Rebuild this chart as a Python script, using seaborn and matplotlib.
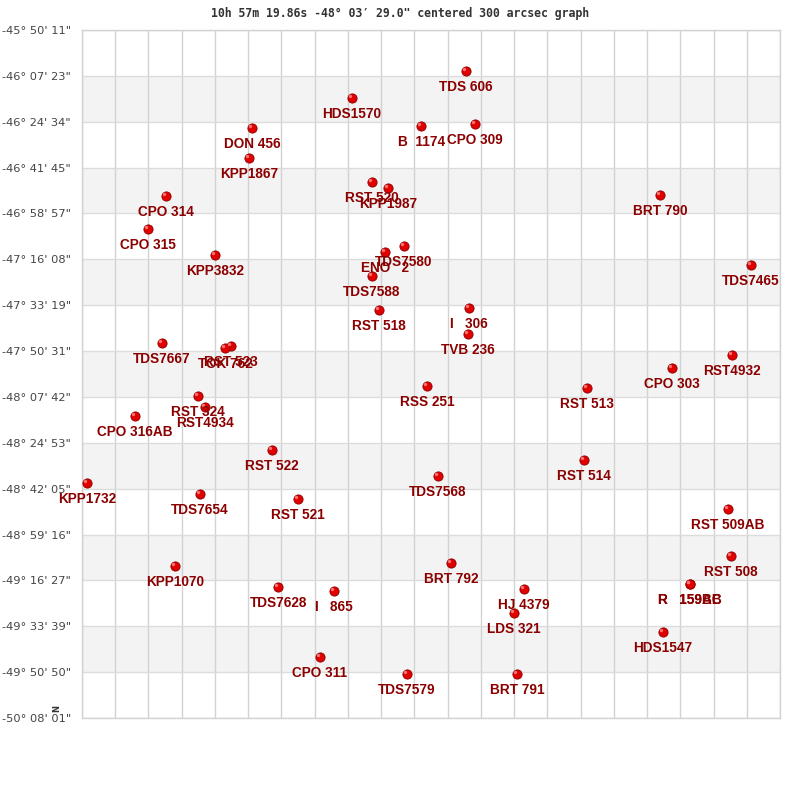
import numpy as np
import pandas as pd
import matplotlib
matplotlib.use("Agg")
import matplotlib.pyplot as plt
import matplotlib.transforms as mtransforms
import seaborn as sns

# Yıldız adları, RA ofseti (arcmin, merkeze göre) ve deklinasyon (derece)
names = ["TDS 606", "HDS1570", "B  1174", "CPO 309", "DON 456", "KPP1867",
         "RST 520", "KPP1987", "BRT 790", "CPO 314", "CPO 315", "KPP3832",
         "TDS7580", "ENO   2", "TDS7588", "TDS7465", "RST 518", "I   306",
         "TVB 236", "TDS7667", "RST 523", "TOK 762", "CPO 303", "RST4932",
         "RSS 251", "RST 513", "RST 324", "RST4934", "CPO 316AB", "RST 522",
         "RST 514", "TDS7568", "KPP1732", "TDS7654", "RST 521", "RST 509AB",
         "RST 508", "BRT 792", "KPP1070", "TDS7628", "I   865", "HJ 4379",
         "R   159AB", "R   159BC", "LDS 321", "HDS1547", "CPO 311", "TDS7579",
         "BRT 791"]
ra_off = [13.1, -29.6, -3.7, 16.5, -67.1, -68.2,
          -22.1, -16.1, 85.8, -99.3, -106.1, -81.0,
          -10.1, -17.2, -22.1, 119.9, -19.5, 14.2,
          13.9, -100.8, -75.0, -77.2, 90.3, 112.8,
          -1.5, 58.5, -87.3, -84.7, -110.9, -59.6,
          57.3, 2.6, -128.9, -86.6, -49.8, 111.3,
          112.4, 7.5, -95.9, -57.3, -36.4, 34.9,
          97.1, 97.1, 31.1, 87.0, -41.6, -9.0,
          32.2]
dec = [-46.0925, -46.2611, -46.4360, -46.4235, -46.4485, -46.6359,
       -46.7858, -46.8233, -46.8670, -46.8732, -47.0794, -47.2418,
       -47.1855, -47.2230, -47.3729, -47.3042, -47.5853, -47.5728,
       -47.7352, -47.7914, -47.8101, -47.8226, -47.9475, -47.8664,
       -48.0600, -48.0725, -48.1224, -48.1911, -48.2474, -48.4597,
       -48.5222, -48.6221, -48.6658, -48.7345, -48.7658, -48.8282,
       -49.1218, -49.1655, -49.1843, -49.3154, -49.3404, -49.3279,
       -49.2967, -49.2967, -49.4778, -49.5965, -49.7526, -49.8588,
       -49.8588]

dec_labels = ['-45° 50\' 11"', '-46° 07\' 23"', '-46° 24\' 34"', '-46° 41\' 45"',
              '-46° 58\' 57"', '-47° 16\' 08"', '-47° 33\' 19"', '-47° 50\' 31"',
              '-48° 07\' 42"', '-48° 24\' 53"', '-48° 42\' 05"', '-48° 59\' 16"',
              '-49° 16\' 27"', '-49° 33\' 39"', '-49° 50\' 50"', '-50° 08\' 01"']

baslik = '10h 57m 19.86s -48° 03′ 29.0" centered 300 arcsec graph'

df = pd.DataFrame({"ad": names, "x": ra_off, "y": dec})

sns.set_theme(style="white")
plt.rcParams['font.family'] = ['Liberation Sans', 'DejaVu Sans']

fig = plt.figure(figsize=(8, 8), dpi=100)
ax = fig.add_axes([0.1025, 0.1025, 0.8725, 0.86])

dec_top, dec_bot = -45.83639, -50.13361
x_lim = 130.8
y_ticks = np.linspace(dec_top, dec_bot, len(dec_labels))

# Arka plandaki gri şeritler
for i in range(1, len(y_ticks) - 1, 2):
    ax.axhspan(y_ticks[i + 1], y_ticks[i], color='#f3f3f3', zorder=0, lw=0)

for xv in np.linspace(-x_lim, x_lim, 22):
    ax.axvline(xv, color='#d2d2d2', lw=1, zorder=1)
for yv in y_ticks:
    ax.axhline(yv, color='#dcdcdc', lw=1, zorder=1)

# Küre görünümü: koyu kenarlı kırmızı nokta + küçük parlama
sns.scatterplot(data=df, x="x", y="y", ax=ax, s=44, color='#e00000',
                edgecolor='#8a0000', linewidth=0.6, zorder=3, legend=False)
parlama = mtransforms.offset_copy(ax.transData, fig=fig, x=-1.2, y=1.2, units='points')
ax.scatter(df["x"], df["y"], s=6, color='#ff7070', linewidth=0, zorder=3.5,
           transform=parlama)

for _, r in df.iterrows():
    ax.annotate(r["ad"], (r["x"], r["y"]), xytext=(0, -11.5), textcoords='offset points',
                ha='center', va='center', fontsize=9.8, fontweight='bold',
                color='#8b0000', zorder=4)

ax.set_xlim(-x_lim, x_lim)
ax.set_ylim(dec_bot, dec_top)
ax.set_xticks([])
ax.set_yticks(y_ticks)
ax.set_yticklabels(dec_labels, family='DejaVu Sans', fontsize=8.2, color='#444444')
ax.tick_params(axis='y', length=0, pad=8)
ax.set_xlabel('')
ax.set_ylabel('')
for sp in ax.spines.values():
    sp.set_color('#d2d2d2')
    sp.set_linewidth(1)

fig.text(0.5, 1 - 13 / 800, baslik, ha='center', va='center', family='DejaVu Sans Mono',
         fontsize=8.3, fontweight='bold', color='#333333')
fig.text(57 / 800, 1 - 708 / 800, 'N', ha='center', va='center', rotation=90,
         fontsize=6, fontweight='bold', color='#333333', family='DejaVu Sans')

fig.savefig("out.png", dpi=100)
